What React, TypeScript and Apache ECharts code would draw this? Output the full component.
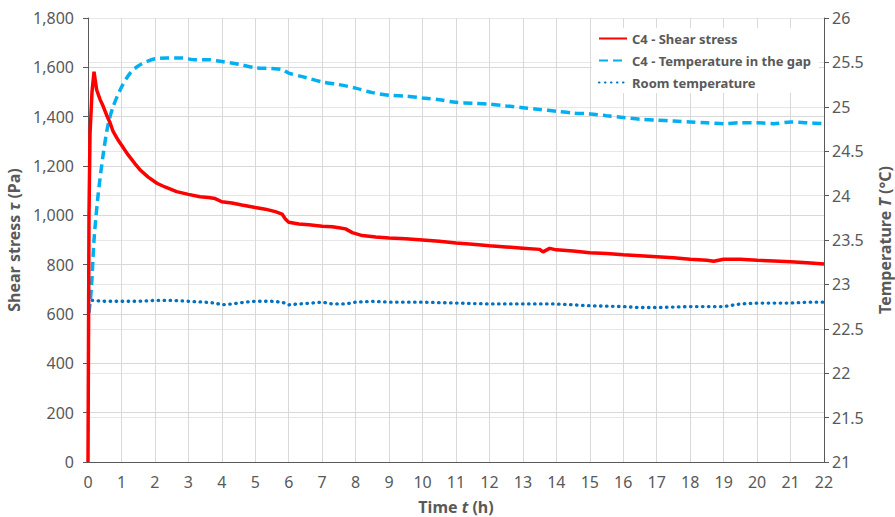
import React, { useEffect, useRef } from "react";
import * as echarts from "echarts";

// Time (h) and shear stress (Pa) — C4
const shearTime = [0, 0.03, 0.06, 0.12, 0.18, 0.22, 0.26, 0.36, 0.46, 0.56, 0.66, 0.75, 0.9, 1.05, 1.2, 1.4, 1.56, 1.8, 2.06, 2.3, 2.65, 3.0, 3.35, 3.6, 3.8, 4.0, 4.3, 4.6, 5.0, 5.3, 5.6, 5.8, 5.9, 6.0, 6.3, 6.6, 7.0, 7.3, 7.5, 7.7, 7.9, 8.2, 8.6, 9.0, 9.5, 10.0, 10.5, 11.0, 11.5, 12.0, 12.5, 13.0, 13.5, 13.6, 13.8, 14.0, 14.5, 15.0, 15.5, 16.0, 16.5, 17.0, 17.5, 18.0, 18.5, 18.7, 19.0, 19.5, 20.0, 20.5, 21.0, 21.5, 22.0];
const shearStress = [0, 1000, 1330, 1500, 1582, 1545, 1508, 1470, 1440, 1405, 1375, 1340, 1305, 1275, 1245, 1210, 1184, 1155, 1130, 1115, 1096, 1085, 1075, 1072, 1068, 1055, 1050, 1042, 1032, 1025, 1015, 1005, 985, 972, 965, 962, 956, 954, 950, 945, 930, 918, 912, 908, 905, 900, 895, 888, 883, 877, 872, 867, 862, 852, 866, 860, 855, 848, 845, 840, 836, 832, 828, 822, 818, 814, 822, 822, 818, 815, 812, 808, 803];

// Temperature in the gap (°C) — C4
const gapTime = [0.03, 0.1, 0.18, 0.3, 0.46, 0.6, 0.75, 1.0, 1.26, 1.5, 1.76, 2.0, 2.36, 2.8, 3.2, 3.6, 4.0, 4.5, 5.0, 5.5, 5.8, 6.0, 6.5, 7.0, 7.5, 8.0, 8.5, 9.0, 9.5, 10.0, 10.5, 11.0, 11.5, 12.0, 12.5, 13.0, 13.5, 14.0, 14.5, 15.0, 15.5, 16.0, 16.5, 17.0, 17.5, 18.0, 18.5, 19.0, 19.5, 20.0, 20.5, 21.0, 21.5, 22.0];
const gapTemp = [22.68, 22.95, 23.5, 24.0, 24.48, 24.8, 25.0, 25.22, 25.38, 25.46, 25.51, 25.54, 25.55, 25.55, 25.53, 25.53, 25.51, 25.48, 25.44, 25.43, 25.42, 25.38, 25.33, 25.28, 25.25, 25.21, 25.16, 25.13, 25.12, 25.1, 25.08, 25.05, 25.04, 25.03, 25.01, 24.99, 24.97, 24.95, 24.93, 24.92, 24.9, 24.88, 24.86, 24.85, 24.84, 24.83, 24.82, 24.81, 24.82, 24.82, 24.81, 24.83, 24.82, 24.81];

// Room temperature (°C)
const roomTime = [0.02, 0.1, 0.5, 1.0, 1.5, 2.0, 2.5, 3.0, 3.5, 3.8, 4.0, 4.3, 4.7, 5.0, 5.5, 5.8, 6.0, 6.3, 6.7, 7.0, 7.3, 7.7, 8.0, 8.5, 9.0, 10.0, 11.0, 12.0, 13.0, 14.0, 15.0, 16.0, 16.5, 17.0, 18.0, 19.0, 19.5, 20.0, 21.0, 21.5, 22.0];
const roomTemp = [22.87, 22.82, 22.81, 22.81, 22.81, 22.82, 22.82, 22.81, 22.8, 22.79, 22.77, 22.78, 22.8, 22.81, 22.81, 22.8, 22.77, 22.78, 22.79, 22.8, 22.78, 22.78, 22.8, 22.81, 22.8, 22.8, 22.79, 22.78, 22.78, 22.78, 22.76, 22.75, 22.74, 22.74, 22.75, 22.75, 22.78, 22.79, 22.79, 22.8, 22.8];

const seriesNames = ["C4 - Shear stress", "C4 - Temperature in the gap", "Room temperature"];

const zip = (a: number[], b: number[]) => a.map((x, i) => [x, b[i]]);

const FONT = "'Noto Sans', 'Open Sans', sans-serif";
const GRAY = "#595959";

export default function App() {
  const ref = useRef<HTMLDivElement>(null);
  useEffect(() => {
    if (!ref.current) return;
    const chart = echarts.init(ref.current, undefined, { renderer: "svg" });
    const nameStyle = {
      fontFamily: FONT, fontSize: 16, fontWeight: "bold", color: GRAY,
      rich: { i: { fontStyle: "italic", fontFamily: FONT, fontSize: 16, fontWeight: "bold", color: GRAY } },
    };
    chart.setOption({
      animation: false,
      textStyle: { fontFamily: FONT },
      grid: { left: 88, right: 71, top: 18, bottom: 55, outerBoundsMode: "none", containLabel: false },
      legend: {
        orient: "vertical",
        left: 592,
        top: 28,
        itemWidth: 28,
        itemHeight: 8,
        itemGap: 9,
        backgroundColor: "#ffffff",
        padding: [4, 8, 4, 6],
        itemStyle: { opacity: 0 },
        textStyle: { fontFamily: FONT, fontSize: 13, fontWeight: "bold", color: GRAY },
        data: seriesNames,
      },
      xAxis: {
        type: "value",
        min: 0,
        max: 22,
        interval: 1,
        name: "Time {i|t} (h)",
        nameLocation: "middle",
        nameGap: 37,
        nameTextStyle: nameStyle,
        axisLine: { show: true, onZero: false, lineStyle: { color: GRAY, width: 1 } },
        axisTick: { show: false },
        axisLabel: { fontFamily: FONT, fontSize: 16, color: GRAY, margin: 12 },
        splitLine: { show: true, lineStyle: { color: "#d9d9d9", width: 1 } },
      },
      yAxis: [
        {
          type: "value",
          min: 0,
          max: 1800,
          interval: 200,
          position: "left",
          name: "Shear stress {i|τ} (Pa)",
          nameLocation: "middle",
          nameRotate: 90,
          nameGap: 52,
          nameTextStyle: nameStyle,
          axisLine: { show: true, lineStyle: { color: GRAY, width: 1 } },
          axisTick: { show: true, length: 5, lineStyle: { color: GRAY } },
          axisLabel: {
            fontFamily: FONT, fontSize: 16, color: GRAY, margin: 14,
            formatter: (v: number) => v.toLocaleString("en-US"),
          },
          splitLine: { show: true, lineStyle: { color: "#d9d9d9", width: 1 } },
        },
        {
          type: "value",
          min: 21,
          max: 26,
          interval: 0.5,
          position: "right",
          name: "Temperature {i|T} (°C)",
          nameLocation: "middle",
          nameRotate: 90,
          nameGap: 53,
          nameTextStyle: nameStyle,
          axisLine: { show: true, lineStyle: { color: GRAY, width: 1 } },
          axisTick: { show: true, length: 5, lineStyle: { color: GRAY } },
          axisLabel: { fontFamily: FONT, fontSize: 16, color: GRAY, margin: 8 },
          splitLine: { show: true, lineStyle: { color: "#e6e6e6", width: 1 } },
        },
      ],
      series: [
        {
          name: seriesNames[0],
          type: "line",
          yAxisIndex: 0,
          data: zip(shearTime, shearStress),
          showSymbol: false,
          symbol: "none",
          color: "#FF0000",
          lineStyle: { color: "#FF0000", width: 3.5 },
          z: 4,
        },
        {
          name: seriesNames[1],
          type: "line",
          yAxisIndex: 1,
          data: zip(gapTime, gapTemp),
          showSymbol: false,
          symbol: "none",
          smooth: 0.3,
          color: "#00B0F0",
          lineStyle: { color: "#00B0F0", width: 3.5, type: [9, 5] },
          z: 3,
        },
        {
          name: seriesNames[2],
          type: "line",
          yAxisIndex: 1,
          data: zip(roomTime, roomTemp),
          showSymbol: false,
          symbol: "none",
          color: "#0070C0",
          lineStyle: { color: "#0070C0", width: 3.3, type: [0.5, 5.5], cap: "round" },
          z: 2,
        },
      ],
    });
    return () => chart.dispose();
  }, []);
  return (
    <div
      ref={ref}
      style={{ position: "fixed", left: 0, top: 0, width: 895, height: 517, background: "#ffffff" }}
    />
  );
}
